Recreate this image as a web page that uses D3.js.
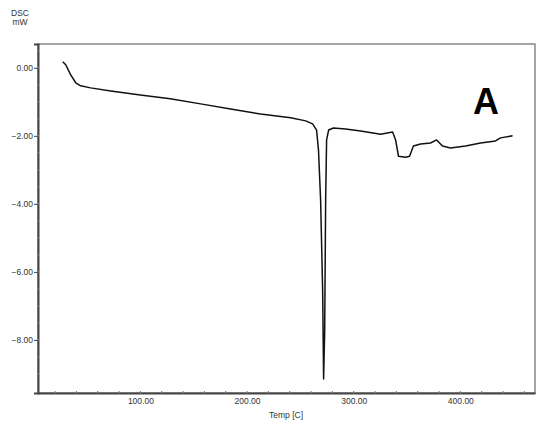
<!DOCTYPE html>
<html>
<head>
<meta charset="utf-8">
<script src="https://cdn.jsdelivr.net/npm/d3@7"></script>
<style>
  body { margin: 0; background: #fff; }
  svg { display: block; font-family: "Liberation Sans", Arial, sans-serif; }
</style>
</head>
<body>
<div id="chart"></div>
<script>
// data
const temps = [27.2, 30, 34.7, 39.4, 44, 53.4, 72.2, 100, 128, 156.5, 184.6, 212.7, 240.9, 255, 261.5,
  265.2, 267, 269, 270.9, 271.8, 272.8, 273.7, 274.6, 276.5, 281, 292.4, 306.5, 325.2, 336.5,
  339.3, 342, 348.7, 352.4, 356, 362.7, 372, 377.7, 383.3, 390.8, 404.9, 419, 433, 437.7, 449];
const dsc = [0.18, 0.09, -0.21, -0.44, -0.53, -0.59, -0.68, -0.80, -0.91, -1.06, -1.21, -1.36, -1.47, -1.56, -1.65,
  -1.83, -2.42, -3.9, -6.55, -9.15, -7.73, -3.9, -2.12, -1.83, -1.77, -1.80, -1.86, -1.95, -1.89,
  -2.12, -2.6, -2.63, -2.6, -2.3, -2.24, -2.21, -2.12, -2.3, -2.36, -2.3, -2.21, -2.15, -2.06, -2.0];
const yTicks = [0, -2, -4, -6, -8];
const xTicks = [100, 200, 300, 400];

const w = 538, h = 423;
const padL = 38, padR = 535, padT = 44, padB = 393;

const svg = d3.select("#chart").append("svg").attr("width", w).attr("height", h);

const x = d3.scaleLinear().domain([4, 470]).range([padL, padR]);
const y = d3.scaleLinear().domain([0.7, -9.56]).range([padT, padB]);

// frame
svg.append("rect")
  .attr("x", padL).attr("y", padT)
  .attr("width", padR - padL).attr("height", padB - padT)
  .attr("fill", "none").attr("stroke", "#888").attr("stroke-width", 1.5);

// y axis
const yAxis = svg.append("g").attr("transform", "translate(" + padL + ",0)")
  .call(d3.axisLeft(y).tickValues(yTicks).tickFormat(d3.format(".2f")).tickSize(4));
yAxis.select(".domain").attr("stroke", "#444").attr("stroke-width", 2);
yAxis.selectAll("text").attr("font-size", 8.5).attr("fill", "#333").attr("dx", 2);
yAxis.selectAll(".tick line").attr("stroke", "#444");

svg.append("g").selectAll("line")
  .data(d3.range(0.5, -9.5, -0.5))
  .enter().append("line")
  .attr("x1", padL).attr("x2", padL + 2)
  .attr("y1", d => y(d)).attr("y2", d => y(d))
  .attr("stroke", "#999");

// x axis
const xAxis = svg.append("g").attr("transform", "translate(0," + padB + ")")
  .call(d3.axisBottom(x).tickValues(xTicks).tickFormat(d3.format(".2f")).tickSize(0).tickPadding(5));
xAxis.select(".domain").attr("stroke", "#444").attr("stroke-width", 2);
xAxis.selectAll("text").attr("font-size", 8.5).attr("fill", "#333");

svg.append("g").selectAll("line")
  .data(d3.range(20, 470, 20))
  .enter().append("line")
  .attr("x1", d => x(d)).attr("x2", d => x(d))
  .attr("y1", padB - 2).attr("y2", padB + 1)
  .attr("stroke", "#777");

// axis titles
svg.append("text").attr("x", 20).attr("y", 16).attr("text-anchor", "middle")
  .attr("font-size", 8.5).attr("fill", "#333").text("DSC");
svg.append("text").attr("x", 20).attr("y", 25).attr("text-anchor", "middle")
  .attr("font-size", 8.5).attr("fill", "#333").text("mW");
svg.append("text").attr("x", 286).attr("y", 418).attr("text-anchor", "middle")
  .attr("font-size", 8.5).attr("fill", "#333").text("Temp [C]");

// panel letter
svg.append("text").attr("x", 486).attr("y", 114).attr("text-anchor", "middle")
  .attr("font-size", 36).attr("font-weight", "bold").attr("fill", "#000").text("A");

// curve
const line = d3.line().x(d => x(d[0])).y(d => y(d[1]));
svg.append("path")
  .datum(d3.zip(temps, dsc))
  .attr("d", line)
  .attr("fill", "none").attr("stroke", "#111").attr("stroke-width", 1.5)
  .attr("stroke-linejoin", "round");
</script>
</body>
</html>
